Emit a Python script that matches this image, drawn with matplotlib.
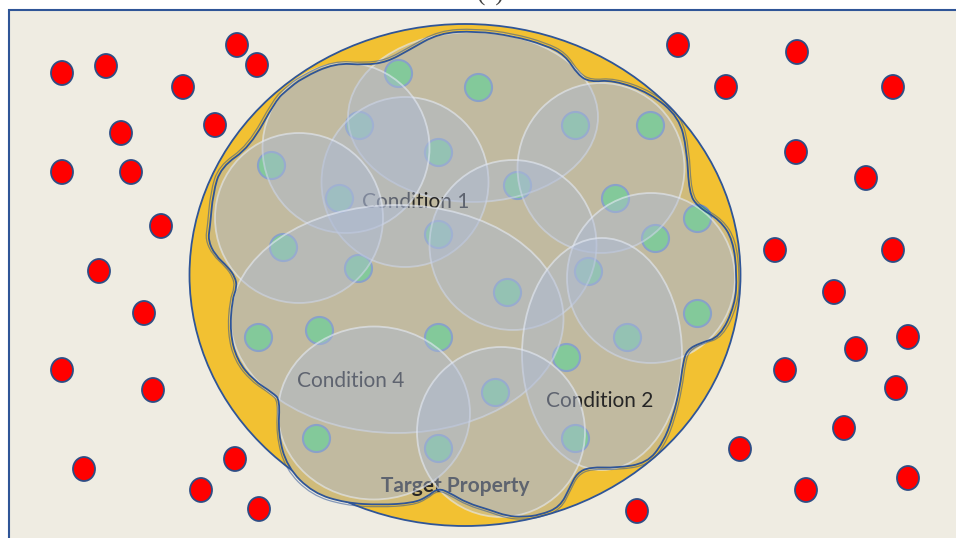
import matplotlib
matplotlib.use("Agg")
import matplotlib.pyplot as plt
from matplotlib.patches import Ellipse, Rectangle, PathPatch
from matplotlib.path import Path

# Puntos rojos (fuera de la propiedad objetivo), coordenadas en pixeles
red_x = [62, 106, 237, 257, 183, 121, 215, 62, 131, 161, 99, 144, 62, 153, 84, 235, 201, 259,
         678, 797, 726, 893, 796, 866, 775, 893, 834, 908, 856, 785, 896, 844, 740, 908, 806, 637]
red_y = [73, 66, 45, 65, 87, 133, 125, 172, 172, 226, 271, 313, 370, 390, 469, 459, 490, 509,
         45, 52, 87, 87, 152, 178, 250, 250, 292, 337, 349, 370, 388, 428, 449, 478, 490, 511]

# Puntos verdes (dentro)
green_x = [398, 478, 359, 438, 575, 650, 271, 339, 517, 615, 697, 655, 283, 438, 358, 588, 507,
           697, 627, 258, 319, 438, 566, 495, 316, 438, 575]
green_y = [73, 87, 125, 152, 125, 125, 165, 198, 185, 198, 218, 238, 247, 234, 268, 271, 292,
           313, 337, 337, 330, 337, 357, 392, 438, 448, 438]

# Contorno ondulado de la propiedad
blob_x = [439, 476, 513, 545, 565, 578, 590, 613, 650, 679, 687, 689, 698, 720, 733, 737, 735, 720,
          700, 687, 683, 680, 673, 663, 647, 617, 590, 577, 570, 560, 540, 523, 507, 490, 467, 450,
          438, 427, 413, 380, 346, 313, 287, 278, 280, 273, 253, 237, 230, 232, 237, 235, 228, 215,
          208, 210, 213, 221, 250, 276, 287, 302, 335, 365, 387, 409]
blob_y = [33, 31, 36, 45, 55, 75, 82, 80, 93, 117, 150, 193, 207, 220, 240, 275, 305, 337,
          343, 350, 363, 387, 417, 443, 463, 468, 467, 473, 487, 507, 515, 517, 516, 510, 503, 493,
          488, 497, 503, 505, 503, 493, 467, 433, 400, 393, 380, 360, 333, 300, 287, 277, 267, 255,
          240, 227, 193, 167, 147, 100, 90, 78, 63, 65, 62, 50]

# Condiciones (elipses): centro, ancho, alto, orden de dibujo
cond_cx = [473, 405, 346, 299, 601, 513, 651, 397, 602, 374, 501]
cond_cy = [117, 182, 148, 218, 168, 245, 278, 319, 354, 413, 432]
cond_w = [250, 167, 167, 168, 167, 167, 168, 333, 160, 192, 168]
cond_h = [170, 170, 170, 170, 170, 170, 170, 228, 232, 173, 170]
cond_z = [5, 6, 8, 8.1, 8.2, 8.3, 8.4, 8.5, 9, 11, 11.1]

labels = ["Condition 1", "Condition 4", "Condition 2", "Target Property"]
label_x = [416, 351, 600, 455]
label_y = [208, 387, 407, 492]
label_z = [7, 8.7, 10, 10.5]
label_w = ["normal", "normal", "normal", "bold"]


def contorno_suave(pts):
    # curva cuadratica cerrada pasando por los puntos medios
    n = len(pts)
    mid = [((pts[i][0] + pts[(i + 1) % n][0]) / 2, (pts[i][1] + pts[(i + 1) % n][1]) / 2) for i in range(n)]
    verts = [mid[-1]]
    codes = [Path.MOVETO]
    for i in range(n):
        verts += [pts[i], mid[i]]
        codes += [Path.CURVE3, Path.CURVE3]
    return Path(verts, codes)


fig = plt.figure(figsize=(9.56, 5.38), dpi=100)
ax = fig.add_axes([0, 0, 1, 1])
ax.set_xlim(0, 956)
ax.set_ylim(538, 0)
ax.axis("off")

azul = "#2F5597"
ax.add_patch(Rectangle((9, 10), 960, 540, facecolor="#EFECE2", edgecolor=azul, lw=1.5, zorder=1))
ax.add_patch(Ellipse((465, 275), 551, 502, facecolor="#F2C132", edgecolor=azul, lw=1.3, zorder=2))

pts = list(zip(blob_x, blob_y))
ax.add_patch(PathPatch(contorno_suave(pts), facecolor="#D0BB7A", edgecolor="none", zorder=3))

ax.scatter(green_x, green_y, s=380, color="#66D470", edgecolors="#7090C0", linewidths=1.5, zorder=4)

for cx, cy, w, h, z in zip(cond_cx, cond_cy, cond_w, cond_h, cond_z):
    ax.add_patch(Ellipse((cx, cy), w, h, facecolor=(0.68, 0.73, 0.84, 0.42),
                         edgecolor=(0.90, 0.92, 0.96, 0.6), lw=1.3, zorder=z))

for t, x, y, z, fw in zip(labels, label_x, label_y, label_z, label_w):
    ax.text(x, y, t, ha="center", va="baseline", fontsize=15, fontfamily="Lato",
            fontweight=fw, color="#262626", zorder=z)

# linea del contorno por encima de las elipses
ax.add_patch(PathPatch(contorno_suave(pts), fill=False, edgecolor=azul, lw=1.3, zorder=12))
pts2 = [(465 + (x - 465) * 1.01, 277 + (y - 277) * 1.01) for x, y in pts]
ax.add_patch(PathPatch(contorno_suave(pts2), fill=False, edgecolor=azul, lw=0.9, alpha=0.55, zorder=12))

for x, y in zip(red_x, red_y):
    ax.add_patch(Ellipse((x, y), 22, 24, facecolor="#FF0000", edgecolor="#2E4D85", lw=1.3, zorder=13))

ax.text(491, 0.5, "(a)", ha="center", va="baseline", fontsize=18, fontfamily="Liberation Serif",
        color="#404040", zorder=14)

fig.savefig("out.png", dpi=100, facecolor="white")
